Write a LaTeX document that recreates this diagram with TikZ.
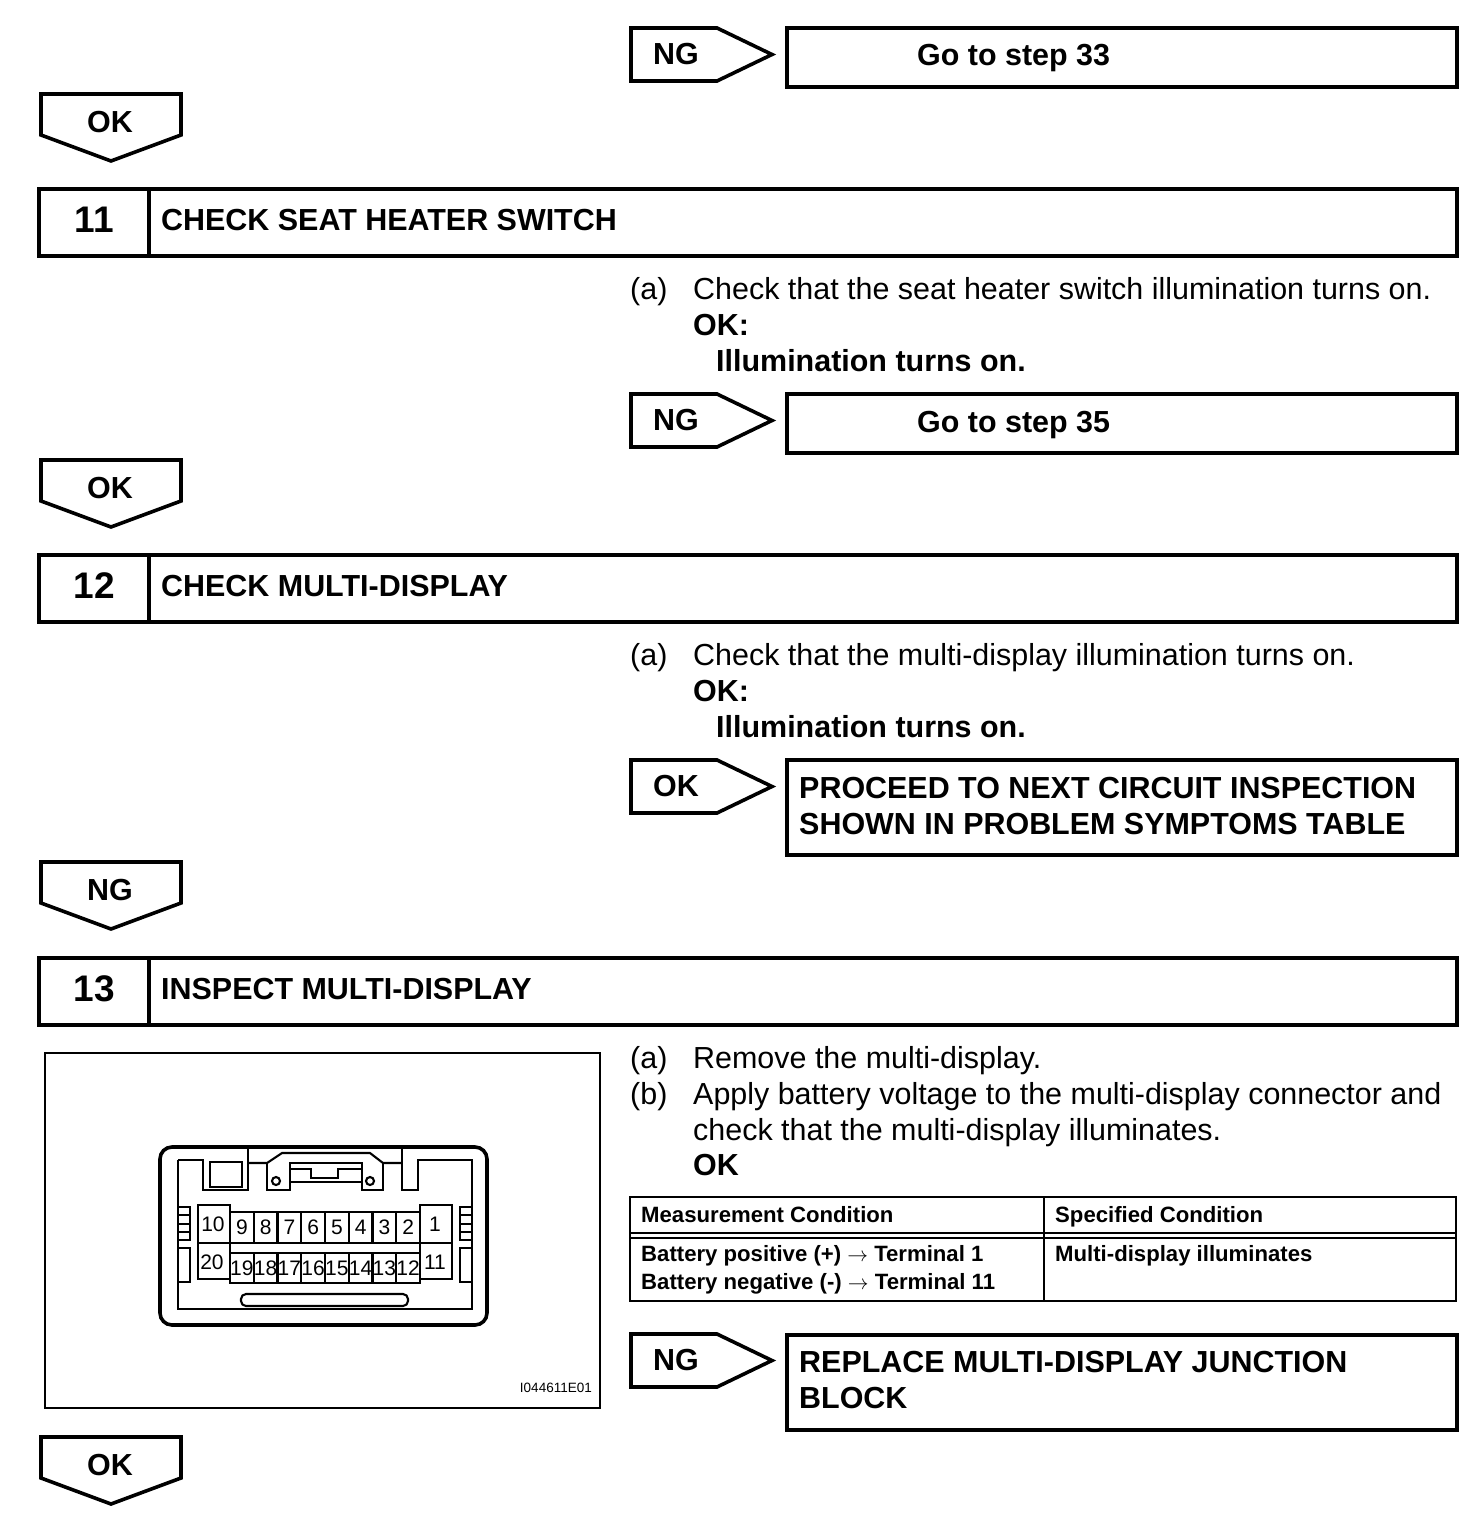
\documentclass[tikz,border=0pt]{standalone}
\usepackage{fontspec}
\setmainfont{Liberation Sans}
\usetikzlibrary{calc, positioning}
\tikzset{
  frameline/.style={draw, line width=3.6pt, line join=miter},
  thinline/.style={draw, line width=2pt},
  plugline/.style={draw, line width=2.1pt},
  bodytext/.style={anchor=base west, inner sep=0pt, font=\fontsize{30.45}{36}\selectfont},
  boldtext/.style={bodytext, font=\fontsize{30.45}{36}\bfseries\selectfont},
  tabletext/.style={anchor=base west, inner sep=0pt, font=\fontsize{22.15}{28}\bfseries\selectfont},
  tagtext/.style={inner sep=0pt, font=\fontsize{30.45}{36}\bfseries\selectfont},
  pintext/.style={inner sep=0pt, font=\fontsize{21}{24}\selectfont},
}
\begin{document}
\begin{tikzpicture}[x=1pt, y=-1pt]
  \useasboundingbox (0,0) rectangle (1472,1536);
  % tags pointing right
  \foreach \ty/\tn/\tt in {28/tagA/NG, 394/tagB/NG, 760/tagC/OK, 1334/tagD/NG} {
    \draw[frameline] (631,\ty) -- (717,\ty) -- (772,\ty+26.5) -- (717,\ty+53) -- (631,\ty+53) -- cycle;
    \node[tagtext] (\tn) at (676,\ty+26) {\tt};
  }
  % tags pointing down
  \foreach \ty/\tn/\tt in {94/downA/OK, 460/downB/OK, 862/downC/NG, 1437/downD/OK} {
    \draw[frameline] (41,\ty) -- (181,\ty) -- (181,\ty+41) -- (111,\ty+67) -- (41,\ty+41) -- cycle;
    \node[tagtext] (\tn) at (110,\ty+28) {\tt};
  }
  % result boxes
  \draw[frameline] (787,28) rectangle (1457,87);
  \node[boldtext] (goA) at (917,66) {Go to step 33};
  \draw[frameline] (787,394) rectangle (1457,453);
  \node[boldtext] (goB) at (917,432) {Go to step 35};
  \draw[frameline] (787,760) rectangle (1457,855);
  \node[boldtext] (nextA) at (799,798) {PROCEED TO NEXT CIRCUIT INSPECTION};
  \node[boldtext] (nextB) at (799,834) {SHOWN IN PROBLEM SYMPTOMS TABLE};
  \draw[frameline] (787,1335) rectangle (1457,1430);
  \node[boldtext] (replA) at (799,1372) {REPLACE MULTI-DISPLAY JUNCTION};
  \node[boldtext] (replB) at (799,1408) {BLOCK};
  % step headers
  \foreach \ty/\tn/\tt/\ts in {189/stepA/11/CHECK SEAT HEATER SWITCH, 555/stepB/12/CHECK MULTI-DISPLAY, 958/stepC/13/INSPECT MULTI-DISPLAY} {
    \draw[frameline] (39,\ty) rectangle (1457,\ty+67);
    \draw[frameline] (149,\ty) -- (149,\ty+67);
    \node[boldtext, font=\fontsize{37}{40}\bfseries\selectfont, anchor=base] (\tn) at (94.5,\ty+43) {\tt};
    \node[boldtext] (\tn text) at (161,\ty+41) {\ts};
  }
  % step 11 text
  \node[bodytext] (aA) at (630,299) {(a)};
  \node[bodytext] (aAtext) at (693,299) {Check that the seat heater switch illumination turns on.};
  \node[boldtext] (okA) at (693,335) {OK:};
  \node[boldtext] (illA) at (716,371) {Illumination turns on.};
  % step 12 text
  \node[bodytext] (aB) at (630,665) {(a)};
  \node[bodytext] (aBtext) at (693,665) {Check that the multi-display illumination turns on.};
  \node[boldtext] (okB) at (693,701) {OK:};
  \node[boldtext] (illB) at (716,737) {Illumination turns on.};
  % step 13 text
  \node[bodytext] (aC) at (630,1068) {(a)};
  \node[bodytext] (aCtext) at (693,1068) {Remove the multi-display.};
  \node[bodytext] (bC) at (630,1104) {(b)};
  \node[bodytext] (bCtext) at (693,1104) {Apply battery voltage to the multi-display connector and};
  \node[bodytext] (bCmore) at (693,1140) {check that the multi-display illuminates.};
  \node[boldtext] (okC) at (693,1175) {OK};
  % table
  \draw[thinline] (630,1197) rectangle (1456,1301);
  \draw[thinline] (630,1233) -- (1456,1233);
  \draw[thinline] (630,1237.5) -- (1456,1237.5);
  \draw[thinline] (1044,1197) -- (1044,1301);
  \node[tabletext] (headL) at (641,1222) {Measurement Condition};
  \node[tabletext] (headR) at (1055,1222) {Specified Condition};
  \node[tabletext] (rowA) at (641,1261) {Battery positive (+) {\mdseries$\rightarrow$} Terminal 1};
  \node[tabletext] (rowB) at (641,1289) {Battery negative (-) {\mdseries$\rightarrow$} Terminal 11};
  \node[tabletext] (rowR) at (1055,1261) {Multi-display illuminates};
  % illustration frame
  \draw[thinline] (45,1053) rectangle (600,1408);
  \node[anchor=base east, inner sep=0pt, font=\fontsize{13.5}{16}\selectfont] (figcode) at (592,1392) {I044611E01};
  % connector body
  \draw[frameline, rounded corners=12pt] (160,1147) rectangle (487,1325);
  \draw[plugline] (178,1160) -- (203,1160) -- (203,1190) -- (248,1190) -- (248,1148);
  \draw[plugline] (248,1163) -- (267,1163) -- (282,1153) -- (370,1153) -- (383,1163) -- (402,1163);
  \draw[plugline] (402,1148) -- (402,1190) -- (418,1190) -- (418,1160) -- (472,1160) -- (472,1309) -- (178,1309) -- (178,1160);
  \draw[plugline] (210,1162) rectangle (242,1187);
  \draw[plugline] (267,1163) -- (267,1190) -- (290,1190) -- (290,1163) -- (362,1163) -- (362,1190) -- (383,1190) -- (383,1163);
  \draw[plugline] (290,1169) -- (311,1169) -- (311,1178) -- (338,1178) -- (338,1169) -- (362,1169);
  \draw[plugline] (290,1182) -- (362,1182);
  \draw[plugline] (276,1181) circle (4);
  \draw[plugline] (370,1181) circle (4);
  \draw[plugline, rounded corners=5pt] (241,1294) rectangle (408,1306);
  % side latches
  \foreach \sx in {178,460} {
    \draw[plugline] (\sx,1207) rectangle (\sx+12,1240);
    \draw[plugline] (\sx,1215) -- (\sx+12,1215);
    \draw[plugline] (\sx,1224) -- (\sx+12,1224);
    \draw[plugline] (\sx,1232) -- (\sx+12,1232);
    \draw[plugline] (\sx,1248) rectangle (\sx+12,1282);
  }
  % terminals
  \draw[plugline] (198,1205) rectangle (230,1243);
  \draw[plugline] (198,1243) rectangle (230,1279);
  \draw[plugline] (420,1205) rectangle (452,1243);
  \draw[plugline] (420,1243) rectangle (452,1279);
  \node[pintext] (pin10) at (213,1224) {10};
  \node[pintext] (pin20) at (212,1262) {20};
  \node[pintext] (pin1) at (435,1224) {1};
  \node[pintext] (pin11) at (435,1262) {11};
  \foreach \n [evaluate=\n as \px using {230+23.75*(9.5-\n)}, evaluate=\n as \pb using int(\n+10)] in {2,...,9} {
    \pgfmathsetmacro{\pa}{\px-11.875}
    \pgfmathsetmacro{\pc}{\px+11.875}
    \draw[plugline] (\pa,1212) rectangle (\pc,1243);
    \draw[plugline] (\pa,1253) rectangle (\pc,1283);
    \node[pintext] (top\n) at (\px,1227) {\n};
    \node[pintext] (bot\n) at (\px,1268) {\pb};
  }
\end{tikzpicture}
\end{document}
